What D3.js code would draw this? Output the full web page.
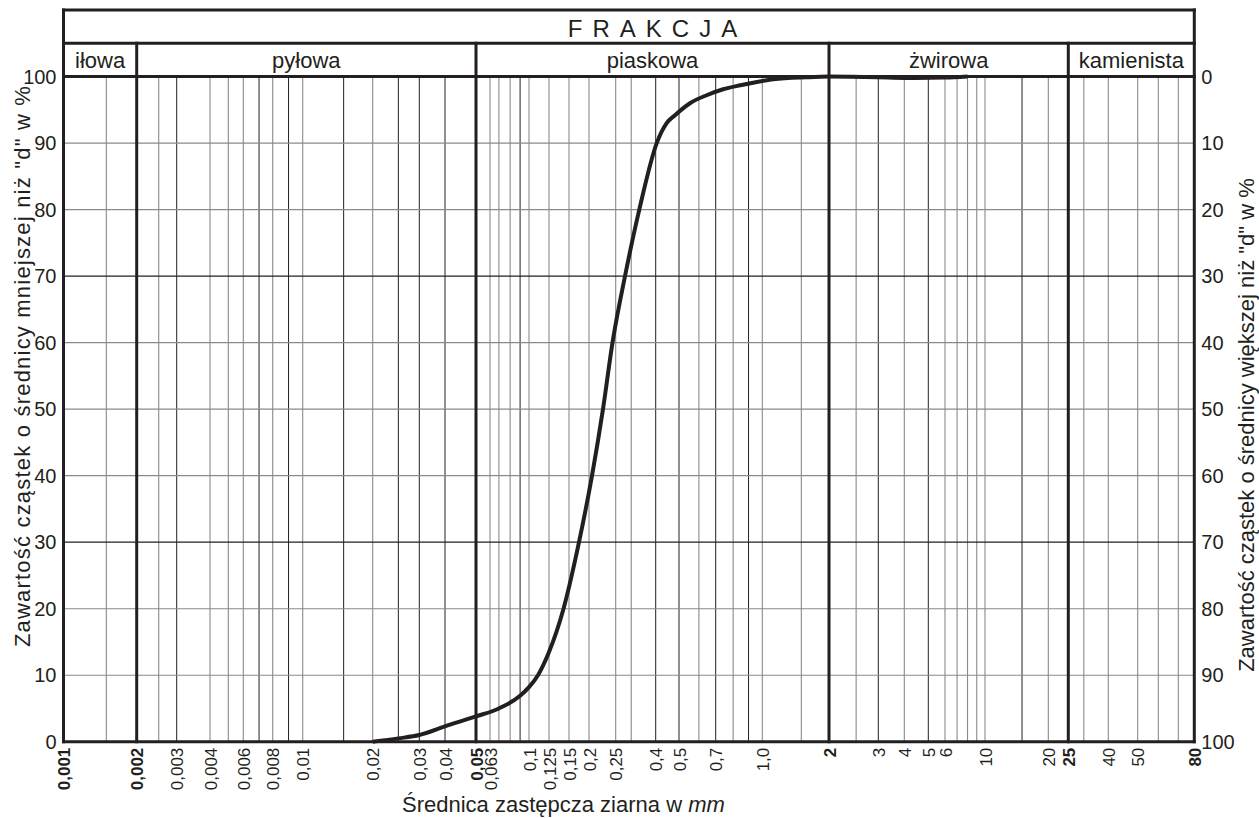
<!DOCTYPE html>
<html>
<head>
<meta charset="utf-8">
<script src="https://cdn.jsdelivr.net/npm/d3@7/dist/d3.min.js"></script>
<style>
  html, body { margin: 0; padding: 0; background: #fff; }
  svg { display: block; font-family: "Liberation Sans", Arial, sans-serif; }
</style>
</head>
<body>
<div id="chart"></div>
<script>
// frakcje (nazwy i granice w mm)
const fractionNames = ['iłowa', 'pyłowa', 'piaskowa', 'żwirowa', 'kamienista'];
const fractionBounds = [0.001, 0.002, 0.05, 2, 25, 80];

// opisane wartości na osi x
const tickValues = [0.001, 0.002, 0.003, 0.004, 0.006, 0.008, 0.01, 0.02, 0.03, 0.04, 0.05, 0.063,
  0.1, 0.125, 0.15, 0.2, 0.25, 0.4, 0.5, 0.7, 1.0, 2, 3, 4, 5, 6, 10, 20, 25, 40, 50, 80];
const tickLabels = ['0,001', '0,002', '0,003', '0,004', '0,006', '0,008', '0,01', '0,02', '0,03', '0,04', '0,05', '0,063',
  '0,1', '0,125', '0,15', '0,2', '0,25', '0,4', '0,5', '0,7', '1,0', '2', '3', '4', '5', '6', '10', '20', '25', '40', '50', '80'];
const boldTicks = [0.001, 0.002, 0.05, 2, 25, 80];

// linie siatki pionowej (ciemne i szare)
const gridDark = [0.003, 0.007, 0.009, 0.015, 0.025, 0.03, 0.04, 0.09, 0.4, 0.5, 0.7, 0.9, 3, 5, 15];
const gridGray = [0.0015, 0.0025, 0.004, 0.005, 0.006, 0.008, 0.01, 0.02, 0.063, 0.07, 0.08, 0.1, 0.125, 0.15,
  0.2, 0.25, 0.3, 0.6, 0.8, 1.0, 1.5, 2.5, 4, 6, 7, 8, 9, 10, 20, 30, 40, 50, 60, 70];

// procenty na osiach
const yTicks = [0, 10, 20, 30, 40, 50, 60, 70, 80, 90, 100];
const yDarkLines = [30, 70];

// krzywa uziarnienia: średnica d [mm] i zawartość ziaren mniejszych niż d [%]
const grainSize = [0.02, 0.025, 0.03, 0.04, 0.05, 0.07, 0.09, 0.1, 0.1105, 0.1243, 0.1427, 0.1732,
  0.2051, 0.2248, 0.2434, 0.2789, 0.3299, 0.4039, 0.4443, 0.4813, 0.553, 0.644, 0.741,
  0.846, 0.960, 1.121, 1.587, 2, 3, 4, 6, 8];
const passing = [0, 0.5, 1.0, 2.3, 3.8, 5.0, 6.9, 8.2, 10, 13.3, 20, 30,
  40, 50, 60, 70, 80, 90, 93, 94.2, 96, 97.2, 98.1,
  98.7, 99.2, 99.6, 99.9, 100, 99.9, 99.8, 99.85, 100];

// niejednorodna podziałka formularza: wartość -> odległość od lewej krawędzi siatki (px)
const scaleStops = [0.001, 0.002, 0.003, 0.004, 0.006, 0.008, 0.01, 0.02, 0.03, 0.04, 0.05, 0.063, 0.1, 0.125,
  0.15, 0.2, 0.25, 0.4, 0.5, 0.7, 1, 2, 3, 4, 5, 6, 10, 20, 25, 40, 50, 60, 70, 80];
const scaleOffsets = [0, 73.2, 113.2, 146.5, 179.8, 209.2, 239.2, 309.2, 355.8, 381.5, 412.5, 426.5, 465.5, 485.5,
  505.5, 525.5, 552.2, 592.2, 615.5, 652.2, 698.8, 765.5, 814.8, 840.8, 864.8, 881.5, 921.5, 984.8, 1004.8,
  1044.8, 1074.2, 1094.8, 1114.8, 1130.8];

const W = 1259, H = 818;
const frameLeft = 63.5, frameTop = 10, headRow = 33.3;
const plotTop = frameTop + 2 * headRow, plotBottom = 741.7;
const ink = '#231f20', gray = '#8a8a8a';

const x = d3.scaleLog().domain(scaleStops).range(scaleOffsets.map(o => frameLeft + o));
const y = d3.scaleLinear().domain([0, 100]).range([plotBottom, plotTop]);
const yRight = d3.scaleLinear().domain([100, 0]).range([plotBottom, plotTop]);
const frameRight = x(80);

const svg = d3.select('#chart').append('svg')
  .attr('width', W).attr('height', H)
  .attr('fill', ink);

// siatka pionowa
const grid = svg.append('g');
grid.selectAll('.vg')
  .data(gridGray).enter().append('line')
  .attr('x1', d => x(d)).attr('x2', d => x(d))
  .attr('y1', plotTop).attr('y2', plotBottom)
  .attr('stroke', gray).attr('stroke-width', 1.1);
grid.selectAll('.vd')
  .data(gridDark).enter().append('line')
  .attr('x1', d => x(d)).attr('x2', d => x(d))
  .attr('y1', plotTop).attr('y2', plotBottom)
  .attr('stroke', ink).attr('stroke-width', 1);
// siatka pozioma
grid.selectAll('.hg')
  .data(yTicks.slice(1, -1)).enter().append('line')
  .attr('x1', frameLeft).attr('x2', frameRight)
  .attr('y1', d => y(d)).attr('y2', d => y(d))
  .attr('stroke', d => yDarkLines.includes(d) ? ink : gray)
  .attr('stroke-width', 1.1);

// ramka i granice frakcji
const frame = svg.append('g').attr('stroke', ink).attr('stroke-width', 3).attr('stroke-linecap', 'square');
[frameTop, frameTop + headRow, plotTop, plotBottom].forEach(yy => {
  frame.append('line').attr('x1', frameLeft).attr('x2', frameRight).attr('y1', yy).attr('y2', yy);
});
[fractionBounds[0], fractionBounds[fractionBounds.length - 1]].forEach(v => {
  frame.append('line').attr('x1', x(v)).attr('x2', x(v)).attr('y1', frameTop).attr('y2', plotBottom);
});
frame.selectAll('.fb')
  .data(fractionBounds.slice(1, -1)).enter().append('line')
  .attr('x1', d => x(d)).attr('x2', d => x(d))
  .attr('y1', frameTop + headRow).attr('y2', plotBottom);

// nagłówek
svg.append('text')
  .attr('x', (x(0.05) + x(2)) / 2 + 5).attr('y', frameTop + 27)
  .attr('text-anchor', 'middle')
  .style('font-size', '24px').style('letter-spacing', '10px')
  .text('FRAKCJA');
svg.selectAll('.fname')
  .data(fractionNames).enter().append('text')
  .attr('x', (d, i) => (x(fractionBounds[i]) + x(fractionBounds[i + 1])) / 2)
  .attr('y', frameTop + headRow + 25)
  .attr('text-anchor', 'middle')
  .style('font-size', '22px')
  .text(d => d);

// krzywa
const curveData = grainSize.map((d, i) => ({ d: d, p: passing[i] }));
svg.append('path')
  .datum(curveData)
  .attr('fill', 'none')
  .attr('stroke', ink)
  .attr('stroke-width', 4)
  .attr('stroke-linejoin', 'round')
  .attr('d', d3.line().x(d => x(d.d)).y(d => y(d.p)).curve(d3.curveMonotoneX));

// osie
const axLeft = svg.append('g')
  .attr('transform', `translate(${frameLeft - 1},0)`)
  .call(d3.axisLeft(y).tickValues(yTicks).tickSize(0).tickPadding(6));
const axRight = svg.append('g')
  .attr('transform', `translate(${frameRight + 1},0)`)
  .call(d3.axisRight(yRight).tickValues(yTicks).tickSize(0).tickPadding(6));
[axLeft, axRight].forEach(ax => {
  ax.select('.domain').remove();
  ax.attr('font-family', null).attr('font-size', null);
  ax.selectAll('text').attr('fill', ink).style('font-size', '20px');
});

const axBottom = svg.append('g')
  .attr('transform', `translate(0,${plotBottom})`)
  .call(d3.axisBottom(x).tickValues(tickValues).tickSize(0)
    .tickFormat((d, i) => tickLabels[i]));
axBottom.select('.domain').remove();
axBottom.attr('font-family', null).attr('font-size', null);
axBottom.selectAll('text')
  .attr('fill', ink)
  .attr('transform', 'rotate(-90)')
  .attr('text-anchor', 'end')
  .attr('x', -6).attr('y', 0).attr('dy', '0.36em')
  .style('font-size', '17px')
  .style('font-weight', d => boldTicks.includes(d) ? 'bold' : 'normal');

// opisy osi
const xTitle = svg.append('text')
  .attr('x', 402).attr('y', 812)
  .style('font-size', '22px');
xTitle.append('tspan').text('Średnica zastępcza ziarna w ');
xTitle.append('tspan').style('font-style', 'italic').text('mm');

svg.append('text')
  .attr('transform', 'translate(30,366) rotate(-90)')
  .attr('text-anchor', 'middle')
  .style('font-size', '22px').style('letter-spacing', '1.2px')
  .text('Zawartość cząstek o średnicy mniejszej niż "d" w %');
svg.append('text')
  .attr('transform', 'translate(1254,425) rotate(-90)')
  .attr('text-anchor', 'middle')
  .style('font-size', '22px')
  .text('Zawartość cząstek o średnicy większej niż "d" w %');
</script>
</body>
</html>
